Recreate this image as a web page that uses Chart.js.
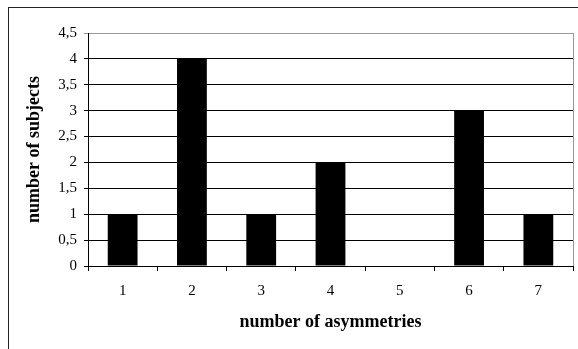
<!DOCTYPE html>
<html>
<head>
<meta charset="utf-8">
<script src="https://cdn.jsdelivr.net/npm/chart.js@4"></script>
<style>
  html, body { margin: 0; padding: 0; background: #fff; }
  #wrap { position: relative; width: 578px; height: 349px; overflow: hidden; }
  #frame { position: absolute; left: 8px; top: 7px; width: 700px; height: 500px; border: 1px solid #222; }
  canvas { position: absolute; left: 0; top: 0; }
</style>
</head>
<body>
<div id="wrap">
  <div id="frame"></div>
  <canvas id="chart" width="578" height="349"></canvas>
</div>
<script>
// 비대칭 개수별 피험자 수
const categories = ['1', '2', '3', '4', '5', '6', '7'];
const subjects = [1, 4, 1, 2, 0, 3, 1];
const yTicks = [0, 0.5, 1, 1.5, 2, 2.5, 3, 3.5, 4, 4.5];

// 플롯 영역 오른쪽 회색 테두리
const rightBorder = {
  id: 'rightBorder',
  afterDraw(chart) {
    const { ctx, chartArea } = chart;
    ctx.save();
    ctx.strokeStyle = '#999';
    ctx.lineWidth = 1;
    ctx.beginPath();
    ctx.moveTo(chartArea.right + 0.5, chartArea.top);
    ctx.lineTo(chartArea.right + 0.5, chartArea.bottom);
    ctx.stroke();
    ctx.restore();
  },
};

const serif = 'Liberation Serif';

new Chart(document.querySelector('#chart'), {
  type: 'bar',
  data: {
    labels: categories,
    datasets: [
      {
        data: subjects,
        backgroundColor: '#000',
        categoryPercentage: 1,
        barPercentage: 0.43,
      },
    ],
  },
  options: {
    responsive: false,
    animation: false,
    layout: { padding: { left: 8, top: 33, right: 5, bottom: 0 } },
    plugins: {
      legend: { display: false },
      tooltip: { enabled: false },
    },
    scales: {
      x: {
        grid: {
          drawOnChartArea: false,
          drawTicks: true,
          tickLength: 5,
          color: '#000',
        },
        border: { color: '#000' },
        ticks: {
          color: '#000',
          padding: 11,
          font: { family: serif, size: 15 },
        },
        title: {
          display: true,
          text: 'number of asymmetries',
          color: '#000',
          font: { family: serif, size: 18, weight: 'bold' },
          padding: { top: 0, bottom: 16 },
        },
        afterFit(scale) {
          scale.height = 83;
        },
      },
      y: {
        min: 0,
        max: 4.5,
        afterBuildTicks(scale) {
          scale.ticks = yTicks.map((v) => ({ value: v }));
        },
        grid: {
          tickLength: 4,
          color: (ctx) => (ctx.tick && ctx.tick.value === 4.5 ? '#999' : '#000'),
        },
        border: { color: '#000' },
        ticks: {
          color: '#000',
          padding: 7,
          font: { family: serif, size: 15 },
          callback: (v) => String(v).replace('.', ','),
        },
        title: {
          display: true,
          text: 'number of subjects',
          color: '#000',
          font: { family: serif, size: 18, weight: 'bold' },
          padding: { top: 16, bottom: 0 },
        },
        afterFit(scale) {
          scale.width = 80;
        },
      },
    },
  },
  plugins: [rightBorder],
});
</script>
</body>
</html>
